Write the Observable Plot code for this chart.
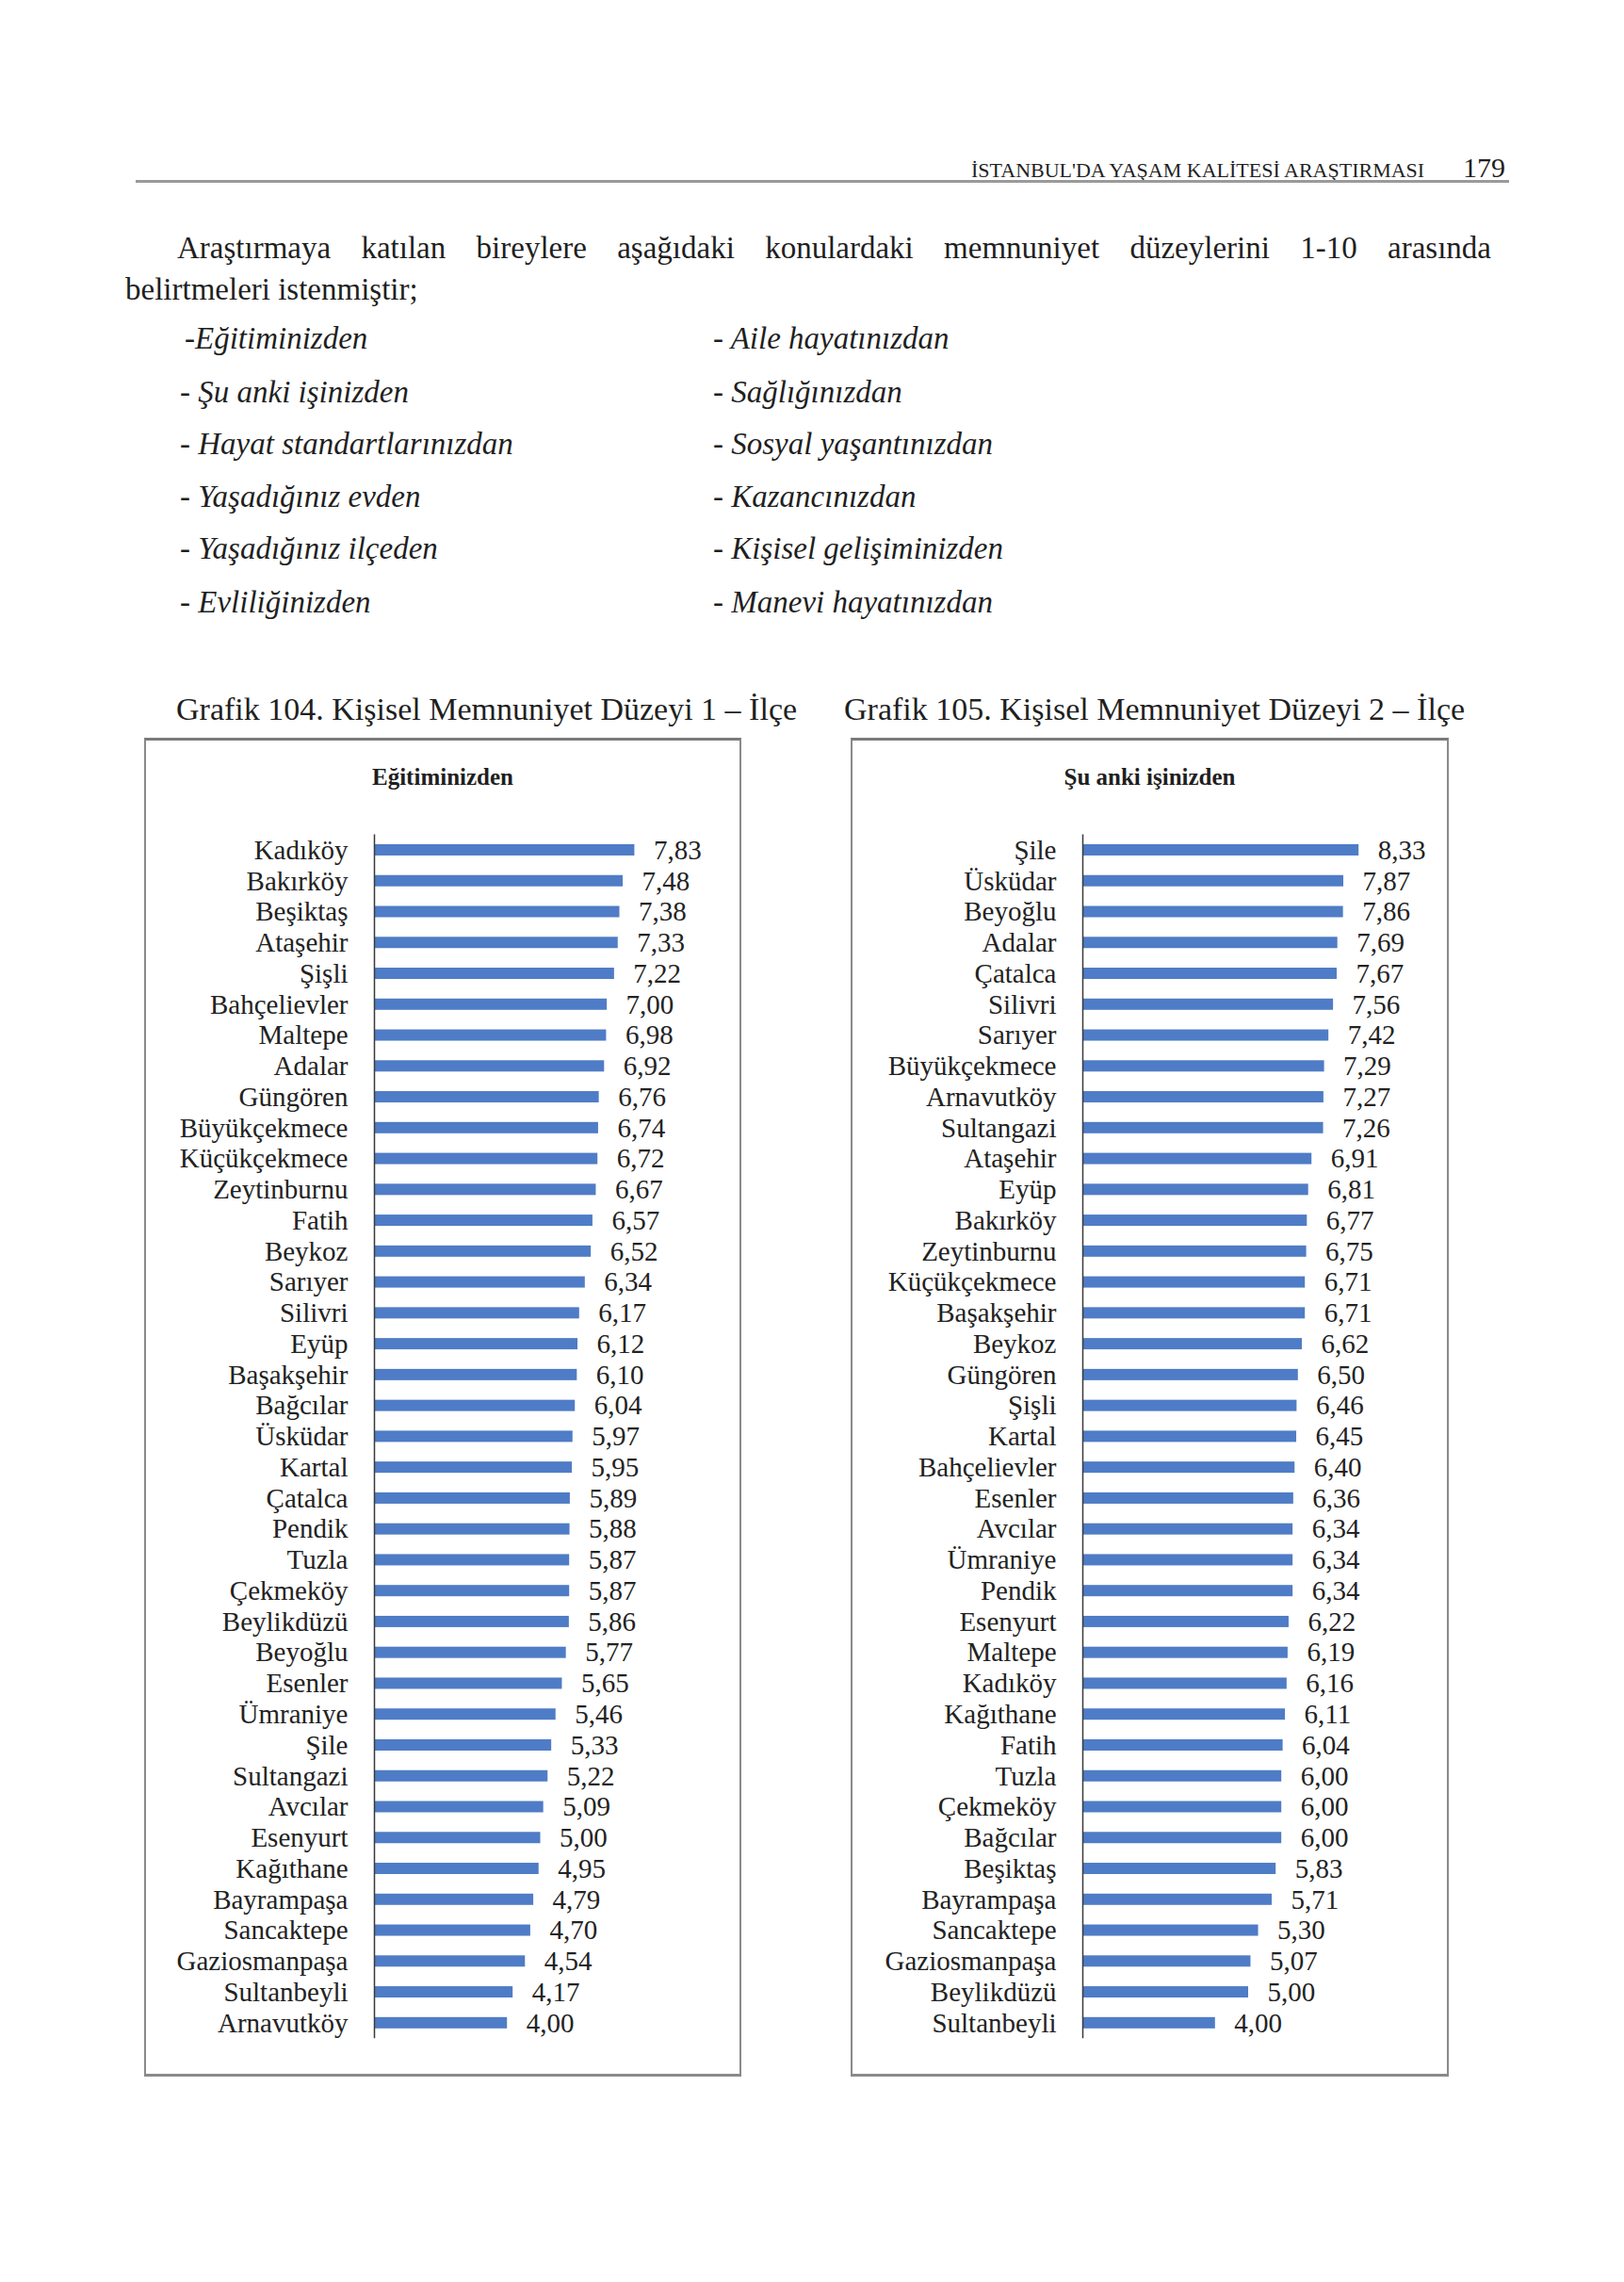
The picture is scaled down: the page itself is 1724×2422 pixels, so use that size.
<!DOCTYPE html>
<html>
<head>
<meta charset="utf-8">
<script src="https://cdn.jsdelivr.net/npm/d3@7"></script>
<script src="https://cdn.jsdelivr.net/npm/@observablehq/plot@0.6"></script>
<style>
html,body{margin:0;padding:0;background:#fff;}
#page{position:relative;width:1724px;height:2422px;overflow:hidden;font-family:"Liberation Serif","Times New Roman",serif;color:#1f1f1f;background:#fff;}
.abs{position:absolute;white-space:nowrap;line-height:1;}
.it{font-style:italic;font-size:33px;}
.box{position:absolute;box-sizing:border-box;border:2px solid #8a8a8a;border-top:3px solid #7a7a7a;border-bottom:3px solid #8a8a8a;}
.chart{position:absolute;}
</style>
</head>
<body>
<div id="page">
  <div class="abs" style="left:1031px;top:170px;font-size:22px;">İSTANBUL'DA YAŞAM KALİTESİ ARAŞTIRMASI</div>
  <div class="abs" style="left:1553px;top:163px;font-size:30px;">179</div>
  <div class="abs" style="left:144px;top:191px;width:1458px;height:3px;background:#9a9a9a;"></div>

  <div class="abs" style="left:188px;top:247px;width:1395px;font-size:33px;text-align:justify;text-align-last:justify;white-space:normal;">Araştırmaya katılan bireylere aşağıdaki konulardaki memnuniyet düzeylerini 1-10 arasında</div>
  <div class="abs" style="left:133px;top:291px;font-size:33px;">belirtmeleri istenmiştir;</div>

  <div class="abs it" style="left:196px;top:343px;">-Eğitiminizden</div>
  <div class="abs it" style="left:191px;top:400px;">- Şu anki işinizden</div>
  <div class="abs it" style="left:191px;top:455px;">- Hayat standartlarınızdan</div>
  <div class="abs it" style="left:191px;top:511px;">- Yaşadığınız evden</div>
  <div class="abs it" style="left:191px;top:566px;">- Yaşadığınız ilçeden</div>
  <div class="abs it" style="left:191px;top:623px;">- Evliliğinizden</div>

  <div class="abs it" style="left:757px;top:343px;">- Aile hayatınızdan</div>
  <div class="abs it" style="left:757px;top:400px;">- Sağlığınızdan</div>
  <div class="abs it" style="left:757px;top:455px;">- Sosyal yaşantınızdan</div>
  <div class="abs it" style="left:757px;top:511px;">- Kazancınızdan</div>
  <div class="abs it" style="left:757px;top:566px;">- Kişisel gelişiminizden</div>
  <div class="abs it" style="left:757px;top:623px;">- Manevi hayatınızdan</div>

  <div class="abs" style="left:187px;top:736px;font-size:34px;">Grafik 104. Kişisel Memnuniyet Düzeyi 1 – İlçe</div>
  <div class="abs" style="left:896px;top:736px;font-size:34px;">Grafik 105. Kişisel Memnuniyet Düzeyi 2 – İlçe</div>

  <div class="box" style="left:153px;top:783px;width:634px;height:1421px;"></div>
  <div class="box" style="left:903px;top:783px;width:635px;height:1421px;"></div>

  <div class="abs" style="left:153px;width:634px;top:812px;font-size:25px;font-weight:bold;text-align:center;">Eğitiminizden</div>
  <div class="abs" style="left:903px;width:635px;top:812px;font-size:25px;font-weight:bold;text-align:center;">Şu anki işinizden</div>

  <div id="chart1" class="chart" style="left:155px;top:785px;"></div>
  <div id="chart2" class="chart" style="left:905px;top:785px;"></div>
</div>
<script>
const chart1Districts = ["Kadıköy","Bakırköy","Beşiktaş","Ataşehir","Şişli","Bahçelievler","Maltepe","Adalar","Güngören","Büyükçekmece","Küçükçekmece","Zeytinburnu","Fatih","Beykoz","Sarıyer","Silivri","Eyüp","Başakşehir","Bağcılar","Üsküdar","Kartal","Çatalca","Pendik","Tuzla","Çekmeköy","Beylikdüzü","Beyoğlu","Esenler","Ümraniye","Şile","Sultangazi","Avcılar","Esenyurt","Kağıthane","Bayrampaşa","Sancaktepe","Gaziosmanpaşa","Sultanbeyli","Arnavutköy"];
const chart1Values = [7.83,7.48,7.38,7.33,7.22,7.00,6.98,6.92,6.76,6.74,6.72,6.67,6.57,6.52,6.34,6.17,6.12,6.10,6.04,5.97,5.95,5.89,5.88,5.87,5.87,5.86,5.77,5.65,5.46,5.33,5.22,5.09,5.00,4.95,4.79,4.70,4.54,4.17,4.00];

const chart2Districts = ["Şile","Üsküdar","Beyoğlu","Adalar","Çatalca","Silivri","Sarıyer","Büyükçekmece","Arnavutköy","Sultangazi","Ataşehir","Eyüp","Bakırköy","Zeytinburnu","Küçükçekmece","Başakşehir","Beykoz","Güngören","Şişli","Kartal","Bahçelievler","Esenler","Avcılar","Ümraniye","Pendik","Esenyurt","Maltepe","Kadıköy","Kağıthane","Fatih","Tuzla","Çekmeköy","Bağcılar","Beşiktaş","Bayrampaşa","Sancaktepe","Gaziosmanpaşa","Beylikdüzü","Sultanbeyli"];
const chart2Values = [8.33,7.87,7.86,7.69,7.67,7.56,7.42,7.29,7.27,7.26,6.91,6.81,6.77,6.75,6.71,6.71,6.62,6.50,6.46,6.45,6.40,6.36,6.34,6.34,6.34,6.22,6.19,6.16,6.11,6.04,6.00,6.00,6.00,5.83,5.71,5.30,5.07,5.00,4.00];

const fmt = v => v.toFixed(2).replace(".", ",");

function makeChart(districts, values, marginLeft, marginRight) {
  const data = districts.map((d, i) => ({district: d, value: values[i]}));
  return Plot.plot({
    width: 630,
    height: 1416,
    marginLeft,
    marginRight,
    marginTop: 100.6,
    marginBottom: 37.8,
    x: {domain: [0, 10], axis: null},
    y: {domain: districts, paddingInner: 0.634, paddingOuter: 0.317, round: false, label: null},
    style: {fontFamily: "Liberation Serif, Times New Roman, serif", fontSize: "29px", color: "#222", background: "transparent", overflow: "visible"},
    marks: [
      Plot.barX(data, {x: "value", y: "district", fill: "#4f7cc6"}),
      Plot.ruleX([0], {stroke: "#3a3a3a", strokeWidth: 1.5}),
      Plot.axisY({tickSize: 0, tickPadding: 28, fontSize: 29, label: null}),
      Plot.text(data, {x: "value", y: "district", text: d => fmt(d.value), dx: 20, textAnchor: "start", fontSize: 29, fill: "#222"})
    ]
  });
}

document.getElementById("chart1").appendChild(makeChart(chart1Districts, chart1Values, 242, 35));
document.getElementById("chart2").appendChild(makeChart(chart2Districts, chart2Values, 244, 34));
</script>
</body>
</html>
